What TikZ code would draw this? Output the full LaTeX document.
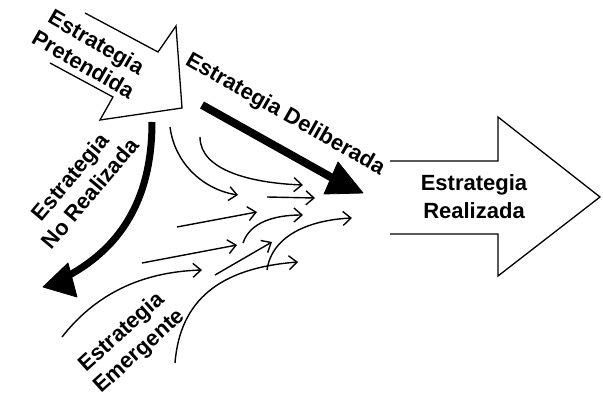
\documentclass[tikz,border=0pt]{standalone}
\usepackage{fontspec}
\setmainfont{Liberation Sans}
\usetikzlibrary{arrows.meta}
\begin{document}
\begin{tikzpicture}[x=1pt,y=-1pt,
  lbl/.style={font=\fontsize{22}{26}\selectfont\bfseries, align=center, inner sep=0pt},
  outline/.style={draw=black, line width=1.3pt, line join=miter},
  thinarrow/.style={draw=black, line width=1.4pt, -{Straight Barb[length=8pt,width=14pt,line width=1.4pt]}},
  thickline/.style={draw=black, line cap=butt},
  headfill/.style={fill=black, draw=black, line width=0.8pt, line join=round}]
\useasboundingbox (0,0) rectangle (603,398);
\fill[white] (0,0) rectangle (603,398);

% Estrategia Realizada (big open arrow)
\draw[outline] (390,161) -- (498,161) -- (498,117) -- (600,197) -- (498,276) -- (498,234) -- (390,234);
\node[lbl, font=\fontsize{22}{28}\selectfont\bfseries] (real) at (474,197) {Estrategia\\Realizada};

% Estrategia Pretendida (big open arrow)
\draw[outline] (85,13) -- (158,52) -- (176,26) -- (182,108) -- (100,120) -- (113,97) -- (50,63);
\node[lbl, rotate=-30] (pret) at (90,53) {Estrategia\\Pretendida};

% Estrategia Deliberada (thick arrow)
\coordinate (d1) at (202,105);
\coordinate (d2) at (336,180);
\draw[thickline, line width=8pt] (d1) -- (d2);
\fill[headfill] (338,162) -- (363,193) -- (324,194) -- cycle;
\node[lbl, rotate=-29.6] (delib) at (285,115) {Estrategia Deliberada};

% Estrategia No Realizada (thick curved arrow)
\coordinate (n1) at (152,122);
\coordinate (n2) at (62,279);
\draw[thickline, line width=7pt] (n1) .. controls (152,200) and (120,250) .. (n2);
\fill[headfill] (43,287) -- (68,263) -- (77,297) -- cycle;
\node[lbl, rotate=50] (noreal) at (80,185) {Estrategia\\No Realizada};

% Estrategia Emergente
\node[lbl, rotate=42] (emer) at (131,342) {Estrategia\\Emergente};

% thin arrows
\coordinate (a1) at (170,127); \coordinate (b1) at (238,195);
\coordinate (a2) at (200,137); \coordinate (b2) at (303,185);
\coordinate (a3) at (267,197); \coordinate (b3) at (315,198);
\coordinate (a4) at (177,227); \coordinate (b4) at (257,212);
\coordinate (a5) at (243,243); \coordinate (b5) at (303,215);
\coordinate (a6) at (267,270); \coordinate (b6) at (352,218);
\coordinate (a7) at (142,263); \coordinate (b7) at (237,245);
\coordinate (a8) at (215,275); \coordinate (b8) at (272,242);
\coordinate (a9) at (62,337);  \coordinate (b9) at (202,270);
\coordinate (a10) at (175,363); \coordinate (b10) at (298,262);

\draw[thinarrow] (a1) .. controls (175,165) and (205,190) .. (b1);
\draw[thinarrow] (a2) .. controls (200,170) and (250,183) .. (b2);
\draw[thinarrow] (a3) -- (b3);
\draw[thinarrow] (a4) -- (b4);
\draw[thinarrow] (a5) .. controls (250,222) and (275,215) .. (b5);
\draw[thinarrow] (a6) .. controls (272,235) and (310,220) .. (b6);
\draw[thinarrow] (a7) -- (b7);
\draw[thinarrow] (a8) -- (b8);
\draw[thinarrow] (a9) .. controls (95,295) and (140,272) .. (b9);
\draw[thinarrow] (a10) .. controls (180,300) and (220,268) .. (b10);
\end{tikzpicture}
\end{document}
